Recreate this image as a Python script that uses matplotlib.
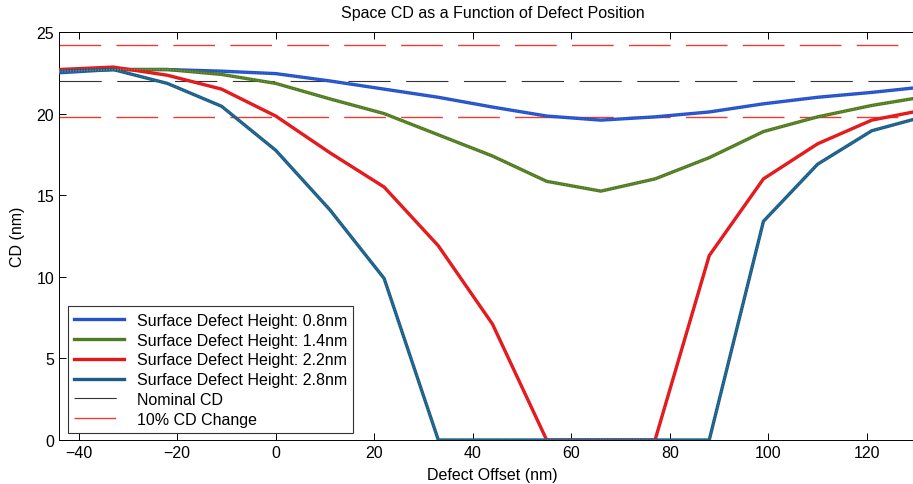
import numpy as np
import matplotlib
matplotlib.use("Agg")
import matplotlib.pyplot as plt

plt.rcParams['font.family'] = ['Liberation Sans', 'DejaVu Sans']

# defect offset (nm)
offset = [-44, -33, -22, -11, 0, 11, 22, 33, 44, 55, 66, 77, 88, 99, 110, 121, 132]

cd_08 = [22.5, 22.7, 22.7, 22.6, 22.45, 22.0, 21.5, 21.0, 20.4, 19.85, 19.6, 19.8, 20.1, 20.6, 21.0, 21.3, 21.65]
cd_14 = [22.6, 22.7, 22.7, 22.4, 21.85, 20.9, 20.0, 18.7, 17.4, 15.85, 15.25, 16.0, 17.3, 18.9, 19.8, 20.5, 21.05]
cd_22 = [22.7, 22.85, 22.35, 21.5, 19.85, 17.6, 15.5, 11.9, 7.1, 0.0, 0.0, 0.0, 11.3, 16.0, 18.15, 19.6, 20.25]
cd_28 = [22.6, 22.7, 21.85, 20.45, 17.75, 14.1, 9.9, 0.0, 0.0, 0.0, 0.0, 0.0, 0.0, 13.4, 16.9, 18.95, 19.85]

nominal_cd = 22.0
cd_change = [24.2, 19.8]

labels = ['Surface Defect Height: 0.8nm', 'Surface Defect Height: 1.4nm',
          'Surface Defect Height: 2.2nm', 'Surface Defect Height: 2.8nm']
colors = ['#2452c8', '#4d7a24', '#e3161a', '#1d5c86']
dot_colors = ['#4f80e8', '#a8b030', '#f04040', '#3aa0c0']

fs = 11.5

fig = plt.figure(figsize=(9.13, 4.85), dpi=100)
ax = fig.add_axes([59 / 913, 44 / 485, 867 / 913, 408 / 485])

x_ref = [-44, 132]
ax.plot(x_ref, [nominal_cd] * 2, color='#333333', lw=0.8,
        linestyle=(0, (38, 14)), label='Nominal CD', zorder=1)
for i, v in enumerate(cd_change):
    ax.plot(x_ref, [v] * 2, color='#f03a30', lw=1.0, linestyle=(0, (30, 11)),
            label='10% CD Change' if i == 0 else None, zorder=1)

for y, lab, c, dc in zip([cd_08, cd_14, cd_22, cd_28], labels, colors, dot_colors):
    ax.plot(offset, y, color=c, lw=2.4, label=lab, zorder=3, solid_joinstyle='miter')
    ax.plot(offset, y, color=dc, lw=0.8, linestyle=(0, (1, 1.5)), alpha=0.6, zorder=4)

ax.set_xlim(-44, 132)
ax.set_ylim(0, 25)
ax.set_xticks(np.arange(-40, 121, 20))
ax.set_yticks(np.arange(0, 26, 5))
ax.tick_params(direction='in', length=5, width=0.7, top=True, labelsize=fs)
ax.spines['right'].set_visible(False)
for s in ['left', 'bottom', 'top']:
    ax.spines[s].set_linewidth(0.7)

ax.set_title('Space CD as a Function of Defect Position', fontsize=fs, pad=11)
ax.set_xlabel('Defect Offset (nm)', fontsize=fs, labelpad=5)
ax.set_ylabel('CD (nm)', fontsize=fs, labelpad=8)

handles, labs = ax.get_legend_handles_labels()
order = [labs.index(l) for l in labels + ['Nominal CD', '10% CD Change']]
leg = ax.legend([handles[i] for i in order], [labs[i] for i in order],
                loc='lower left', bbox_to_anchor=(0.0104, 0.017), borderaxespad=0,
                fontsize=fs, handlelength=3.1, labelspacing=0.3, fancybox=False,
                framealpha=1, edgecolor='#333333')
leg.get_frame().set_linewidth(0.8)

fig.savefig('out.png', dpi=100)
